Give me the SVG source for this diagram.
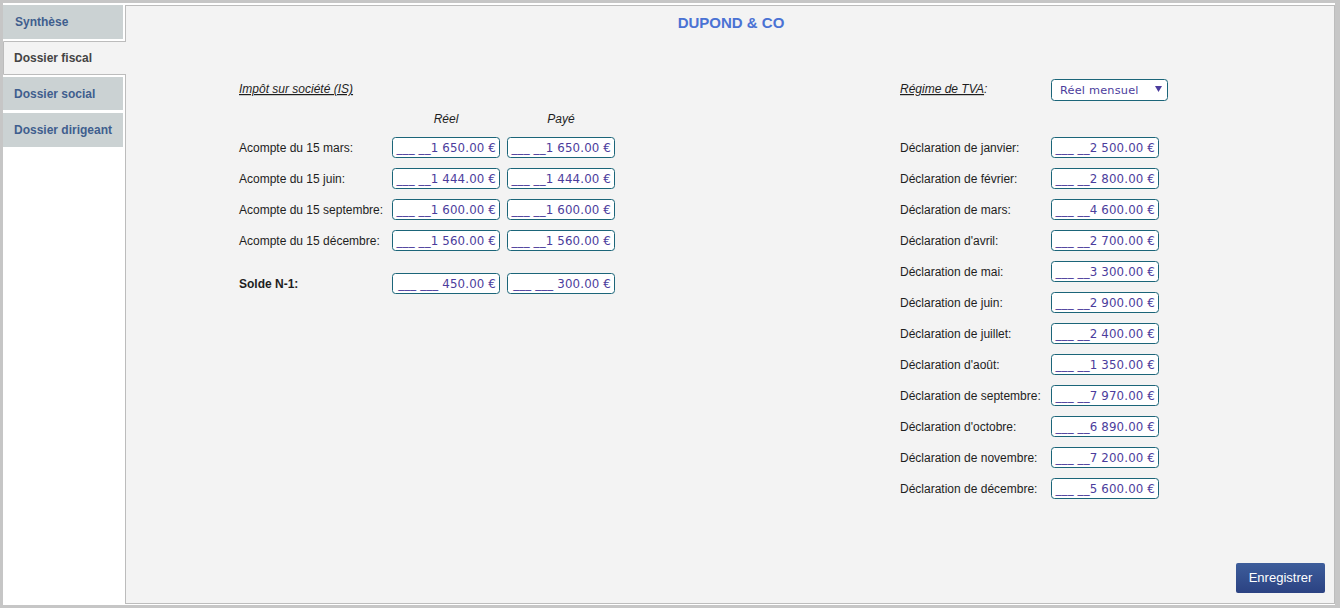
<svg xmlns="http://www.w3.org/2000/svg" width="1340" height="608" viewBox="0 0 1340 608">
<defs>
<linearGradient id="btnGrad" x1="0" y1="0" x2="0" y2="1">
<stop offset="0" stop-color="#3d5d9b"/>
<stop offset="1" stop-color="#2b4282"/>
</linearGradient>
</defs>
<style>
.tab{fill:#cbd2d3}
.tabtxt{font-family:"Liberation Sans",Arial,sans-serif;font-size:12px;font-weight:bold;fill:#3f5e8e}
.lbl{font-family:"Liberation Sans",Arial,sans-serif;font-size:12px;fill:#1e1e1e}
.ital{font-style:italic}
.box{fill:#fff;stroke:#1b6579;stroke-width:1}
.val{font-family:"DejaVu Sans",Verdana,sans-serif;font-size:11.8px;fill:#4b3c9c;letter-spacing:0.15px;text-anchor:end}
</style>
<rect x="0" y="0" width="1340" height="608" fill="#c6c6c6"/>
<rect x="3" y="3" width="1332" height="602" fill="#ffffff"/>
<rect x="125.5" y="5.5" width="1209" height="598" fill="#f3f3f3" stroke="#bcbcbc"/>

<g id="tab-synthese">
<rect class="tab" x="3" y="5" width="120" height="34"/>
<text class="tabtxt" x="15" y="26">Synthèse</text>
</g>
<g id="tab-fiscal">
<rect x="3.5" y="41.5" width="123" height="33" fill="#f3f3f3"/>
<path d="M126 41.5 H3.5 V74.5 H126" fill="none" stroke="#bcbcbc"/>
<text class="tabtxt" x="14" y="62" style="fill:#444">Dossier fiscal</text>
</g>
<g id="tab-social">
<rect class="tab" x="3" y="77" width="120" height="33"/>
<text class="tabtxt" x="14" y="98">Dossier social</text>
</g>
<g id="tab-dirigeant">
<rect class="tab" x="3" y="113" width="120" height="34"/>
<text class="tabtxt" x="14" y="134">Dossier dirigeant</text>
</g>

<g id="title">
<text x="731" y="28" text-anchor="middle" font-family="Liberation Sans, Arial, sans-serif" font-size="15" font-weight="bold" fill="#4a72d4">DUPOND &amp; CO</text>
</g>

<g id="is-section">
<text class="lbl ital" x="239" y="93" text-decoration="underline">Impôt sur société (IS)</text>
<text class="lbl ital" x="446" y="123" text-anchor="middle">Réel</text>
<text class="lbl ital" x="561" y="123" text-anchor="middle">Payé</text>

<text class="lbl" x="239" y="152">Acompte du 15 mars:</text>
<rect class="box" x="392.5" y="137.5" width="107" height="20" rx="3"/>
<text class="val" x="496" y="152">___ __1 650.00 €</text>
<rect class="box" x="507.5" y="137.5" width="107" height="20" rx="3"/>
<text class="val" x="611" y="152">___ __1 650.00 €</text>

<text class="lbl" x="239" y="183">Acompte du 15 juin:</text>
<rect class="box" x="392.5" y="168.5" width="107" height="20" rx="3"/>
<text class="val" x="496" y="183">___ __1 444.00 €</text>
<rect class="box" x="507.5" y="168.5" width="107" height="20" rx="3"/>
<text class="val" x="611" y="183">___ __1 444.00 €</text>

<text class="lbl" x="239" y="214">Acompte du 15 septembre:</text>
<rect class="box" x="392.5" y="199.5" width="107" height="20" rx="3"/>
<text class="val" x="496" y="214">___ __1 600.00 €</text>
<rect class="box" x="507.5" y="199.5" width="107" height="20" rx="3"/>
<text class="val" x="611" y="214">___ __1 600.00 €</text>

<text class="lbl" x="239" y="245">Acompte du 15 décembre:</text>
<rect class="box" x="392.5" y="230.5" width="107" height="20" rx="3"/>
<text class="val" x="496" y="245">___ __1 560.00 €</text>
<rect class="box" x="507.5" y="230.5" width="107" height="20" rx="3"/>
<text class="val" x="611" y="245">___ __1 560.00 €</text>

<text class="lbl" x="239" y="288" font-weight="bold">Solde N-1:</text>
<rect class="box" x="392.5" y="273.5" width="107" height="20" rx="3"/>
<text class="val" x="496" y="288">___ ___ 450.00 €</text>
<rect class="box" x="507.5" y="273.5" width="107" height="20" rx="3"/>
<text class="val" x="611" y="288">___ ___ 300.00 €</text>
</g>

<g id="tva-section">
<text class="lbl ital" x="900" y="93"><tspan text-decoration="underline">Régime de TVA</tspan>:</text>
<rect class="box" x="1051.5" y="79.5" width="116" height="21" rx="3"/>
<text x="1060" y="94" font-family="DejaVu Sans, Verdana, sans-serif" font-size="11.3" fill="#4b3c9c" letter-spacing="0.2">Réel mensuel</text>
<path d="M1155 86 H1162 L1158.5 92 Z" fill="#4b3c9c"/>

<text class="lbl" x="900" y="152">Déclaration de janvier:</text>
<rect class="box" x="1051.5" y="137.5" width="107" height="20" rx="3"/>
<text class="val" x="1155" y="152">___ __2 500.00 €</text>

<text class="lbl" x="900" y="183">Déclaration de février:</text>
<rect class="box" x="1051.5" y="168.5" width="107" height="20" rx="3"/>
<text class="val" x="1155" y="183">___ __2 800.00 €</text>

<text class="lbl" x="900" y="214">Déclaration de mars:</text>
<rect class="box" x="1051.5" y="199.5" width="107" height="20" rx="3"/>
<text class="val" x="1155" y="214">___ __4 600.00 €</text>

<text class="lbl" x="900" y="245">Déclaration d'avril:</text>
<rect class="box" x="1051.5" y="230.5" width="107" height="20" rx="3"/>
<text class="val" x="1155" y="245">___ __2 700.00 €</text>

<text class="lbl" x="900" y="276">Déclaration de mai:</text>
<rect class="box" x="1051.5" y="261.5" width="107" height="20" rx="3"/>
<text class="val" x="1155" y="276">___ __3 300.00 €</text>

<text class="lbl" x="900" y="307">Déclaration de juin:</text>
<rect class="box" x="1051.5" y="292.5" width="107" height="20" rx="3"/>
<text class="val" x="1155" y="307">___ __2 900.00 €</text>

<text class="lbl" x="900" y="338">Déclaration de juillet:</text>
<rect class="box" x="1051.5" y="323.5" width="107" height="20" rx="3"/>
<text class="val" x="1155" y="338">___ __2 400.00 €</text>

<text class="lbl" x="900" y="369">Déclaration d'août:</text>
<rect class="box" x="1051.5" y="354.5" width="107" height="20" rx="3"/>
<text class="val" x="1155" y="369">___ __1 350.00 €</text>

<text class="lbl" x="900" y="400">Déclaration de septembre:</text>
<rect class="box" x="1051.5" y="385.5" width="107" height="20" rx="3"/>
<text class="val" x="1155" y="400">___ __7 970.00 €</text>

<text class="lbl" x="900" y="431">Déclaration d'octobre:</text>
<rect class="box" x="1051.5" y="416.5" width="107" height="20" rx="3"/>
<text class="val" x="1155" y="431">___ __6 890.00 €</text>

<text class="lbl" x="900" y="462">Déclaration de novembre:</text>
<rect class="box" x="1051.5" y="447.5" width="107" height="20" rx="3"/>
<text class="val" x="1155" y="462">___ __7 200.00 €</text>

<text class="lbl" x="900" y="493">Déclaration de décembre:</text>
<rect class="box" x="1051.5" y="478.5" width="107" height="20" rx="3"/>
<text class="val" x="1155" y="493">___ __5 600.00 €</text>
</g>

<g id="btn-enregistrer">
<rect x="1236" y="563" width="89" height="30" rx="2" fill="url(#btnGrad)"/>
<text x="1280.5" y="582" text-anchor="middle" font-family="Liberation Sans, Arial, sans-serif" font-size="13" fill="#ffffff">Enregistrer</text>
</g>
<g id="connectors"/>
</svg>
